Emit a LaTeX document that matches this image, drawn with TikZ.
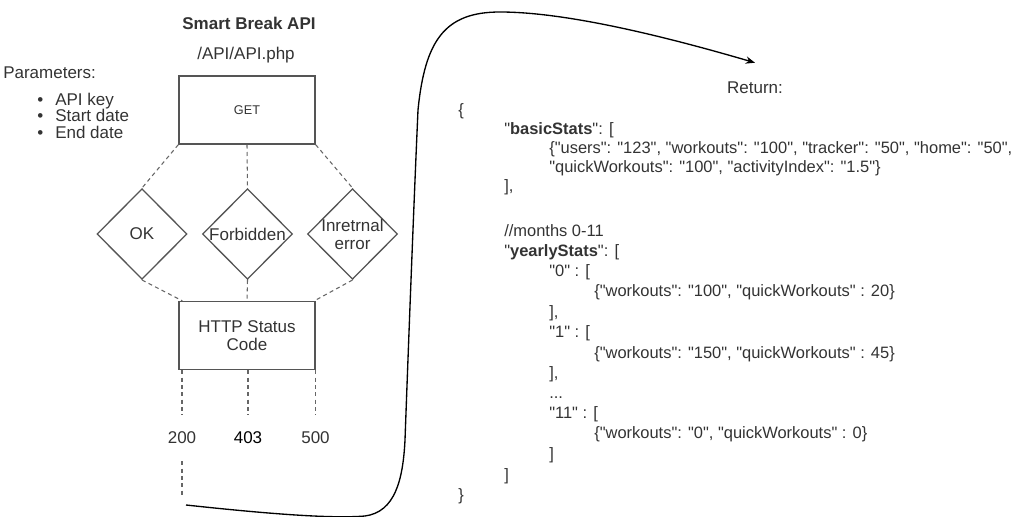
\documentclass[tikz,border=0pt]{standalone}
\usepackage{fontspec}
\setmainfont{Liberation Sans}[Ligatures=TeXOff]
\usetikzlibrary{arrows.meta,shapes.geometric}
\definecolor{txt}{HTML}{333333}
\definecolor{edgec}{HTML}{555555}
\definecolor{dashc}{HTML}{666666}
\newcommand{\fs}{\fontsize{12.75pt}{15pt}\selectfont}
\newcommand{\fj}{\fontsize{12.35pt}{15pt}\selectfont}
\newcommand{\fsmall}{\fontsize{9.5pt}{11pt}\selectfont}
\begin{document}
\begin{tikzpicture}[x=0.75pt,y=-0.75pt,
  every node/.style={text=txt, font=\fs},
  box/.style={draw=edgec, line width=1pt, minimum width=102pt, minimum height=51pt, inner sep=0pt, align=center},
  dia/.style={diamond, shape aspect=1, draw=edgec, line width=1pt, minimum width=67.5pt, minimum height=68pt, inner sep=0pt},
  dsh/.style={draw=dashc, line width=0.8pt, dash pattern=on 3pt off 2.5pt},
  jl/.style={anchor=base west, inner sep=0pt, font=\fj},
  lbl/.style={inner sep=0pt, minimum height=34.5pt},
  bul/.style={anchor=base west, inner sep=0pt}]
\useasboundingbox (0,0) rectangle (1021,517);

% left side
\node[font=\fs\bfseries] (title) at (249,23) {Smart Break API};
\node (url) at (246,55) {/API/API.php};
\node[anchor=base west, inner sep=0pt] (params) at (3,79) {Parameters:};
\node[bul] (p1) at (37,105) {\makebox[13.5pt][l]{•}API key};
\node[bul] (p2) at (37,121.5) {\makebox[13.5pt][l]{•}Start date};
\node[bul] (p3) at (37,138) {\makebox[13.5pt][l]{•}End date};

\node[box, font=\fsmall] (get) at (247,110) {GET};
\node[dia, label={center:OK}] (ok) at (142,234) {};
\node[dia, label={center:Forbidden}] (fb) at (247.5,234) {};
\node[dia, label={[align=center]center:Inretrnal\\[-1.5pt]error}] (er) at (352.5,234) {};
\node[box] (http) at (247,335.5) {HTTP Status\\[-1.5pt]Code};

\node[lbl] (l200) at (182,438) {200};
\node[lbl, text=black] (l403) at (248,438) {403};
\node[lbl] (l500) at (315.5,438) {500};
\coordinate (c200) at (182,495);

\draw[dsh] (get.south west) -- (ok.north);
\draw[dsh] (get.south) -- (fb.north);
\draw[dsh] (get.south east) -- (er.north);
\draw[dsh] (ok.south) -- ([xshift=3pt]http.north west);
\draw[dsh] (fb.south) -- (http.north);
\draw[dsh] (er.south) -- ([xshift=-1pt]http.north east);
\draw[dsh] (l200.north |- http.south) -- (l200.north);
\draw[dsh] (l403.north |- http.south) -- (l403.north);
\draw[dsh] (l500.north |- http.south) -- (l500.north);
\draw[dsh] (l200.south) -- (c200);

% return
\node[inner sep=0pt, minimum height=37.5pt] (ret) at (755,88) {Return:};
\coordinate (cs) at (186,505);
\draw[black, line width=1pt, -{Stealth[length=7pt,width=5.5pt]}]
  (cs) .. controls (260,513) and (330,519) .. (365,516)
       .. controls (395,512) and (403,480) .. (405,440)
       .. controls (409,330) and (414,200) .. (418,110)
       .. controls (425,40) and (445,12) .. (500,12)
       .. controls (560,12) and (650,32) .. (ret.north);

% JSON
\node[jl] (j1) at (458,116) {\{};
\node[jl] (j2) at (504,134) {"\textbf{basicStats}": [};
\node[jl] (j3) at (549,153) {\{"users": "123", "workouts": "100", "tracker": "50", "home": "50",};
\node[jl] (j4) at (549,172) {"quickWorkouts": "100", "activityIndex": "1.5"\}};
\node[jl] (j5) at (504,191) {],};
\node[jl] (j6) at (504,236) {//months 0-11};
\node[jl] (j7) at (504,256) {"\textbf{yearlyStats}": [};
\node[jl] (j8) at (549,276) {"0" : [};
\node[jl] (j9) at (594,296) {\{"workouts": "100", "quickWorkouts" : 20\}};
\node[jl] (j10) at (549,317) {],};
\node[jl] (j11) at (549,337) {"1" : [};
\node[jl] (j12) at (594,358) {\{"workouts": "150", "quickWorkouts" : 45\}};
\node[jl] (j13) at (549,378) {],};
\node[jl] (j14) at (549,398) {...};
\node[jl] (j15) at (549,418) {"11" : [};
\node[jl] (j16) at (594,438) {\{"workouts": "0", "quickWorkouts" : 0\}};
\node[jl] (j17) at (549,459) {]};
\node[jl] (j18) at (504,480) {]};
\node[jl] (j19) at (458,500) {\}};
\end{tikzpicture}
\end{document}
